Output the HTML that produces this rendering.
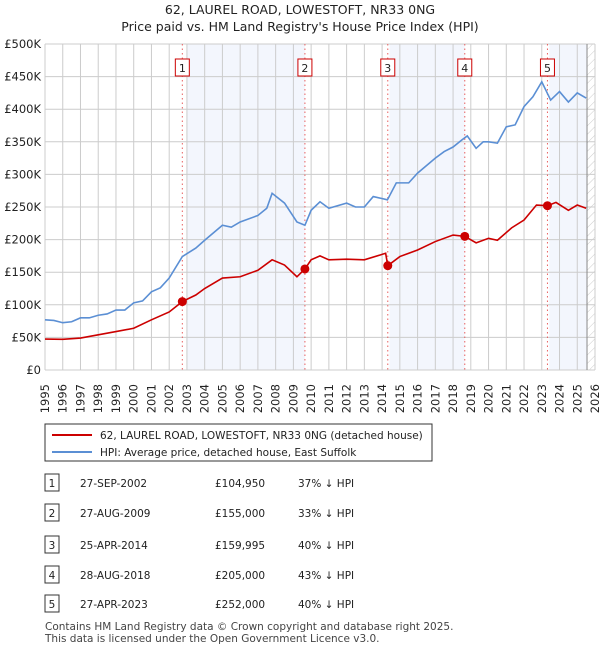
<!DOCTYPE html>
<html><head><meta charset="utf-8"><style>
body{margin:0;background:#fff;font-family:"Liberation Sans","DejaVu Sans",sans-serif;}
svg text{font-family:"DejaVu Sans","Liberation Sans",sans-serif;}
</style></head><body>
<svg id="c" width="600" height="650" xmlns="http://www.w3.org/2000/svg">
<text x="300" y="14" text-anchor="middle" font-size="12.5" fill="#222">62, LAUREL ROAD, LOWESTOFT, NR33 0NG</text>
<text x="300" y="31" text-anchor="middle" font-size="12.5" fill="#222">Price paid vs. HM Land Registry's House Price Index (HPI)</text>
<g id="plot"></g>
<g>
<rect x="45" y="424" width="387" height="37" fill="#fff" stroke="#333"/>
<line x1="52" y1="435" x2="92" y2="435" stroke="#cc0000" stroke-width="2"/>
<text x="100" y="439" font-size="10.5" fill="#222">62, LAUREL ROAD, LOWESTOFT, NR33 0NG (detached house)</text>
<line x1="52" y1="452" x2="92" y2="452" stroke="#5b8fd4" stroke-width="2"/>
<text x="100" y="456" font-size="10.5" fill="#222">HPI: Average price, detached house, East Suffolk</text>
</g>
<g id="table" font-size="10.5" fill="#222"></g>
<text x="45" y="630" font-size="10.5" fill="#444">Contains HM Land Registry data © Crown copyright and database right 2025.</text>
<text x="45" y="642" font-size="10.5" fill="#444">This data is licensed under the Open Government Licence v3.0.</text>
</svg>
<script>
const hpiYears=[1995,1995.5,1996,1996.5,1997,1997.5,1998,1998.5,1999,1999.5,2000,2000.5,2001,2001.5,2002,2002.74,2003.5,2004,2005,2005.5,2006,2007,2007.5,2007.8,2008.5,2009.2,2009.65,2010,2010.5,2011,2012,2012.5,2013,2013.5,2014.3,2014.8,2015.5,2016,2017,2017.5,2018,2018.5,2018.8,2019.3,2019.7,2020,2020.5,2021,2021.5,2022,2022.5,2023,2023.5,2024,2024.5,2025,2025.5];
const hpiValues=[77,76,72.5,74,80,80,84,86,92,92,103,106,120,126,141,174,187,199,222,219,227,237,248,271,256,227,222,245,258,248,256,250,250,266,261,287,287,302,325,335,342,353,359,340,350,350,348,373,376,404,419,442,414,427,411,425,417];
const ppYears=[1995,1996,1997,1998,1999,2000,2001,2002,2002.74,2003.5,2004,2005,2006,2007,2007.8,2008.5,2009.2,2009.65,2010,2010.5,2011,2012,2013,2014.2,2014.32,2015,2016,2017,2018,2018.66,2019.3,2020,2020.5,2021.3,2022,2022.7,2023.32,2023.8,2024.5,2025,2025.5];
const ppValues=[47.5,47,49,54,59,64,77,89,104.95,115,125,141,143,153,169,161,143,155,169,175,169,170,169,179,159.995,174,184,197,207,205,195,202,199,218,230,253,252,257,245,253,248];
const saleYears=[2002.74,2009.65,2014.32,2018.66,2023.32];
const salePrices=[104950,155000,159995,205000,252000];
const saleDates=["27-SEP-2002","27-AUG-2009","25-APR-2014","28-AUG-2018","27-APR-2023"];
const salePriceLabels=["£104,950","£155,000","£159,995","£205,000","£252,000"];
const salePct=["37% ↓ HPI","33% ↓ HPI","40% ↓ HPI","43% ↓ HPI","40% ↓ HPI"];
const yTicks=[0,50,100,150,200,250,300,350,400,450,500];
const yTickLabels=["£0","£50K","£100K","£150K","£200K","£250K","£300K","£350K","£400K","£450K","£500K"];

const NS="http://www.w3.org/2000/svg";
const L=45,R=595,T=44,B=370,Y0=1995,Y1=2026;
const X=y=>L+(y-Y0)/(Y1-Y0)*(R-L);
const Y=v=>B-v/500*(B-T);
const g=document.getElementById('plot');
function mk(tag,at,p){const e=document.createElementNS(NS,tag);for(const k in at)e.setAttribute(k,at[k]);(p||g).appendChild(e);return e;}
const dataEnd=2025.55;
[[saleYears[0]+0.26,saleYears[1]],[saleYears[2]+0.1,saleYears[3]],[saleYears[4]+0.1,dataEnd]].forEach((s,i)=>{
 const r=mk('rect',{x:X(s[0]),y:T,width:X(s[1])-X(s[0]),height:B-T,fill:'#f3f6fd'});
 
 
});
const defs=mk('defs',{});
const pat=mk('pattern',{id:'h',width:6,height:6,patternUnits:'userSpaceOnUse',patternTransform:'rotate(45)'},defs);
mk('line',{x1:0,y1:0,x2:0,y2:6,stroke:'#ccc','stroke-width':1},pat);
const hr=mk('rect',{x:X(dataEnd),y:T,width:R-X(dataEnd),height:B-T,fill:'url(#h)'});


for(let y=Y0;y<=Y1;y++){mk('line',{x1:X(y),y1:T,x2:X(y),y2:B,stroke:'#ccc','stroke-width':1});
 const t=mk('text',{x:0,y:0,transform:`translate(${X(y)+4},${B+14}) rotate(-90)`,'text-anchor':'end','font-size':11.5,fill:'#222'});
 t.textContent=y;
 
 }
yTicks.forEach((v,i)=>{mk('line',{x1:L,y1:Y(v),x2:R,y2:Y(v),stroke:'#ccc','stroke-width':1});
 const t=mk('text',{x:L-4,y:Y(v)+4,'text-anchor':'end','font-size':11.5,fill:'#222'});
 t.textContent=yTickLabels[i];
 
 });
mk('line',{x1:X(dataEnd),y1:T,x2:X(dataEnd),y2:B,stroke:'#888','stroke-width':1});
saleYears.forEach((s,i)=>{
 const l=mk('line',{x1:X(s),y1:T,x2:X(s),y2:B,stroke:'#e86060','stroke-width':1,'stroke-dasharray':'1.5,3'});
 
 
 const b=mk('rect',{x:X(s)-7,y:59,width:14,height:17,fill:'#fff',stroke:'#cc0000'});
 
 
 const t=mk('text',{x:X(s),y:72,'text-anchor':'middle','font-size':11,fill:'#222'});t.textContent=i+1;
});
function line(xs,vs,c,n){const p=mk('polyline',{points:xs.map((x,i)=>X(x)+','+Y(vs[i])).join(' '),fill:'none',stroke:c,'stroke-width':1.6});
 
 }
line(hpiYears,hpiValues,'#5b8fd4','hpi-line');
line(ppYears,ppValues,'#cc0000','price-paid-line');
saleYears.forEach((s,i)=>{const c=mk('circle',{cx:X(s),cy:Y(salePrices[i]/1000),r:4.5,fill:'#cc0000'});
 
 });
const tb=document.getElementById('table');
const rowY=[483,513,545,575,604];
saleDates.forEach((d,i)=>{const y=rowY[i];
 const b=mk('rect',{x:45,y:y-9,width:14,height:17,fill:'#fff',stroke:'#333'},tb);
 
 
 const n=mk('text',{x:52,y:y+4,'text-anchor':'middle'},tb);n.textContent=i+1;
 const t1=mk('text',{x:80,y:y+4},tb);t1.textContent=d;
 
 
 const t2=mk('text',{x:215,y:y+4},tb);t2.textContent=salePriceLabels[i];
 
 
 const t3=mk('text',{x:298,y:y+4},tb);t3.textContent=salePct[i];
 
 
});
</script>
</body></html>
